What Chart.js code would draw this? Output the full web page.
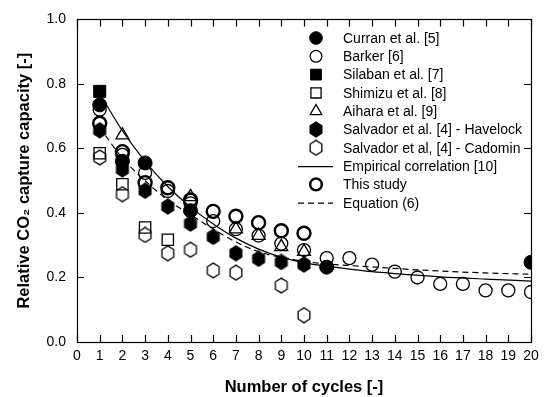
<!DOCTYPE html>
<html>
<head>
<meta charset="utf-8">
<title>Relative CO2 capture capacity</title>
<script src="https://cdn.jsdelivr.net/npm/chart.js"></script>
<style>
  body { margin: 0; background: #fff; }
  #wrap { width: 551px; height: 397px; }
</style>
</head>
<body>
<div id="wrap"><canvas id="cycleChart" width="551" height="397"></canvas></div>
<script>
// data (x = cycle number, y = relative capacity)
var curranX = [1, 2, 3, 5, 11, 20];
var curranY = [0.735, 0.56, 0.555, 0.407, 0.232, 0.247];

var barkerX = [1, 2, 3, 4, 5, 6, 7, 8, 9, 10, 11, 12, 13, 14, 15, 16, 17, 18, 19, 20];
var barkerY = [0.72, 0.58, 0.524, 0.468, 0.43, 0.375, 0.35, 0.33, 0.305, 0.285, 0.26, 0.26, 0.24, 0.218, 0.2, 0.18, 0.18, 0.16, 0.16, 0.155];

var silabanX = [1];
var silabanY = [0.777];

var shimizuX = [1, 2, 3, 4];
var shimizuY = [0.585, 0.489, 0.355, 0.317];

var aiharaX = [2, 5, 7, 8, 9, 10];
var aiharaY = [0.641, 0.45, 0.35, 0.33, 0.295, 0.28];

var havelockX = [1, 2, 3, 4, 5, 6, 7, 8, 9, 10];
var havelockY = [0.656, 0.535, 0.469, 0.42, 0.367, 0.326, 0.275, 0.258, 0.248, 0.24];

var cadominX = [1, 2, 3, 4, 5, 6, 7, 9, 10];
var cadominY = [0.572, 0.458, 0.332, 0.275, 0.286, 0.222, 0.215, 0.175, 0.083];

var studyX = [1, 2, 3, 4, 5, 6, 7, 8, 9, 10];
var studyY = [0.678, 0.59, 0.494, 0.478, 0.44, 0.405, 0.39, 0.37, 0.345, 0.337];

var curveX = [1, 2, 3, 4, 5, 6, 7, 8, 9, 10, 11, 12, 13, 14, 16, 18, 20];
var empiricalY = [0.77, 0.655, 0.56, 0.482, 0.418, 0.366, 0.322, 0.288, 0.263, 0.246, 0.235, 0.226, 0.218, 0.212, 0.202, 0.195, 0.189];
var equationY = [0.665, 0.57, 0.5, 0.44, 0.395, 0.35, 0.31, 0.28, 0.262, 0.25, 0.242, 0.237, 0.233, 0.228, 0.22, 0.214, 0.21];

var xTicks = [0, 1, 2, 3, 4, 5, 6, 7, 8, 9, 10, 11, 12, 13, 14, 15, 16, 17, 18, 19, 20];
var yTicks = [0, 0.2, 0.4, 0.6, 0.8, 1.0];

function pts(xs, ys) {
    return xs.map(function(x, i) { return {x: x, y: ys[i]}; });
}

// hexagon marker (pointy top), chart.js has no built-in one
function hexCanvas(filled) {
    var c = document.createElement('canvas');
    c.width = 16; c.height = 17;
    var g = c.getContext('2d');
    g.beginPath();
    for (var k = 0; k < 6; k++) {
        var a = Math.PI / 2 + k * Math.PI / 3;
        var px = 8 + 6.8 * Math.cos(a), py = 8.5 - 7.4 * Math.sin(a);
        if (k == 0) g.moveTo(px, py); else g.lineTo(px, py);
    }
    g.closePath();
    if (filled) { g.fillStyle = '#000'; g.fill(); }
    g.lineWidth = 1.3;
    g.strokeStyle = '#000';
    g.stroke();
    return c;
}
var hexFilled = hexCanvas(true);
var hexOpen = hexCanvas(false);

var none = 'rgba(0,0,0,0)';
var fontFam = "'Liberation Sans', Arial, sans-serif";

function markerSet(label, data, style, radius, fill, bw, order) {
    return {
        label: label, data: data, showLine: false,
        pointStyle: style, pointRadius: radius,
        pointBackgroundColor: fill, pointBorderColor: '#000', pointBorderWidth: bw,
        order: order
    };
}

var datasets = [
    markerSet('Curran et al. [5]', pts(curranX, curranY), 'circle', 7, '#000', 1, 1),
    markerSet('Barker [6]', pts(barkerX, barkerY), 'circle', 6.5, none, 1.3, 3),
    markerSet('Silaban et al. [7]', pts(silabanX, silabanY), 'rect', 8.5, '#000', 1, 1),
    markerSet('Shimizu et al. [8]', pts(shimizuX, shimizuY), 'rect', 8, none, 1.3, 2),
    markerSet('Aihara et al. [9]', pts(aiharaX, aiharaY), 'triangle', 7.5, none, 1.3, 2),
    markerSet('Salvador et al. [4] - Havelock', pts(havelockX, havelockY), hexFilled, 7, '#000', 1, 1),
    markerSet('Salvador et al, [4] - Cadomin', pts(cadominX, cadominY), hexOpen, 7, none, 1.3, 2),
    {
        label: 'Empirical correlation [10]', data: pts(curveX, empiricalY), showLine: true,
        borderColor: '#000', borderWidth: 1.2, pointRadius: 0, cubicInterpolationMode: 'monotone', order: 5
    },
    markerSet('This study', pts(studyX, studyY), 'circle', 6.5, none, 2.4, 3),
    {
        label: 'Equation (6)', data: pts(curveX, equationY), showLine: true,
        borderColor: '#000', borderWidth: 1.2, borderDash: [6, 4], pointRadius: 0, cubicInterpolationMode: 'monotone', order: 5
    }
];

// box with inward ticks on all four sides
var framePlugin = {
    id: 'frame',
    afterDraw: function(chart) {
        var ctx = chart.ctx, a = chart.chartArea;
        var sx = chart.scales.x, sy = chart.scales.y;
        ctx.save();
        ctx.strokeStyle = '#000';
        ctx.lineWidth = 1.2;
        ctx.strokeRect(Math.round(a.left) + 0.5, Math.round(a.top) + 0.5, Math.round(a.right - a.left), Math.round(a.bottom - a.top));
        ctx.beginPath();
        xTicks.forEach(function(v) {
            var px = Math.round(sx.getPixelForValue(v)) + 0.5;
            ctx.moveTo(px, a.bottom); ctx.lineTo(px, a.bottom - 7);
            ctx.moveTo(px, a.top); ctx.lineTo(px, a.top + 7);
        });
        yTicks.forEach(function(v) {
            var py = Math.round(sy.getPixelForValue(v)) + 0.5;
            ctx.moveTo(a.left, py); ctx.lineTo(a.left + 7, py);
            ctx.moveTo(a.right, py); ctx.lineTo(a.right - 7, py);
        });
        ctx.stroke();
        ctx.restore();
    }
};

// legend drawn inside the plot, top right
var legendPlugin = {
    id: 'insideLegend',
    afterDraw: function(chart) {
        var ctx = chart.ctx;
        var mx = 316, tx = 343, y0 = 38, step = 18.3;
        ctx.save();
        ctx.font = '14px ' + fontFam;
        ctx.textBaseline = 'middle';
        ctx.fillStyle = '#000';
        chart.data.datasets.forEach(function(ds, i) {
            var y = y0 + i * step;
            if (ds.showLine) {
                ctx.beginPath();
                ctx.strokeStyle = '#000';
                ctx.lineWidth = 1.2;
                ctx.setLineDash(ds.borderDash || []);
                ctx.moveTo(298, y + 0.5); ctx.lineTo(333, y + 0.5);
                ctx.stroke();
                ctx.setLineDash([]);
            } else {
                ctx.fillStyle = ds.pointBackgroundColor;
                ctx.strokeStyle = '#000';
                ctx.lineWidth = ds.pointBorderWidth;
                Chart.helpers.drawPoint(ctx, {pointStyle: ds.pointStyle, radius: ds.pointRadius * 0.9, rotation: 0, borderWidth: ds.pointBorderWidth}, mx, y);
            }
            ctx.fillStyle = '#000';
            ctx.fillText(ds.label, tx, y + 1);
        });
        ctx.restore();
    }
};

var ctx = document.getElementById('cycleChart').getContext('2d');
var cycleChart = new Chart(ctx, {
    type: 'scatter',
    data: { datasets: datasets },
    options: {
        responsive: false,
        animation: false,
        devicePixelRatio: 1,
        events: [],
        layout: { padding: { top: 14, right: 20, left: 0, bottom: 0 } },
        plugins: { legend: { display: false }, tooltip: { enabled: false } },
        scales: {
            x: {
                type: 'linear', min: 0, max: 20,
                afterFit: function(s) { s.height = 55; },
                afterBuildTicks: function(s) { s.ticks = xTicks.map(function(v) { return {value: v}; }); },
                grid: { display: false, drawTicks: false },
                border: { display: false },
                ticks: { color: '#000', font: { size: 14, family: fontFam }, padding: 6, maxRotation: 0, autoSkip: false },
                title: { display: true, text: 'Number of cycles [-]', color: '#000', font: { size: 16.5, weight: 'bold', family: fontFam }, padding: { top: 3, bottom: 0 } }
            },
            y: {
                type: 'linear', min: 0, max: 1,
                afterFit: function(s) { s.width = 77; },
                afterBuildTicks: function(s) { s.ticks = yTicks.map(function(v) { return {value: v}; }); },
                grid: { display: false, drawTicks: false },
                border: { display: false },
                ticks: { color: '#000', font: { size: 14, family: fontFam }, padding: 11, callback: function(v) { return v.toFixed(1); } },
                title: { display: true, text: 'Relative CO\u2082 capture capacity [-]', color: '#000', font: { size: 16.5, weight: 'bold', family: fontFam }, padding: { top: 15, bottom: 0 } }
            }
        }
    },
    plugins: [framePlugin, legendPlugin]
});
</script>
</body>
</html>
